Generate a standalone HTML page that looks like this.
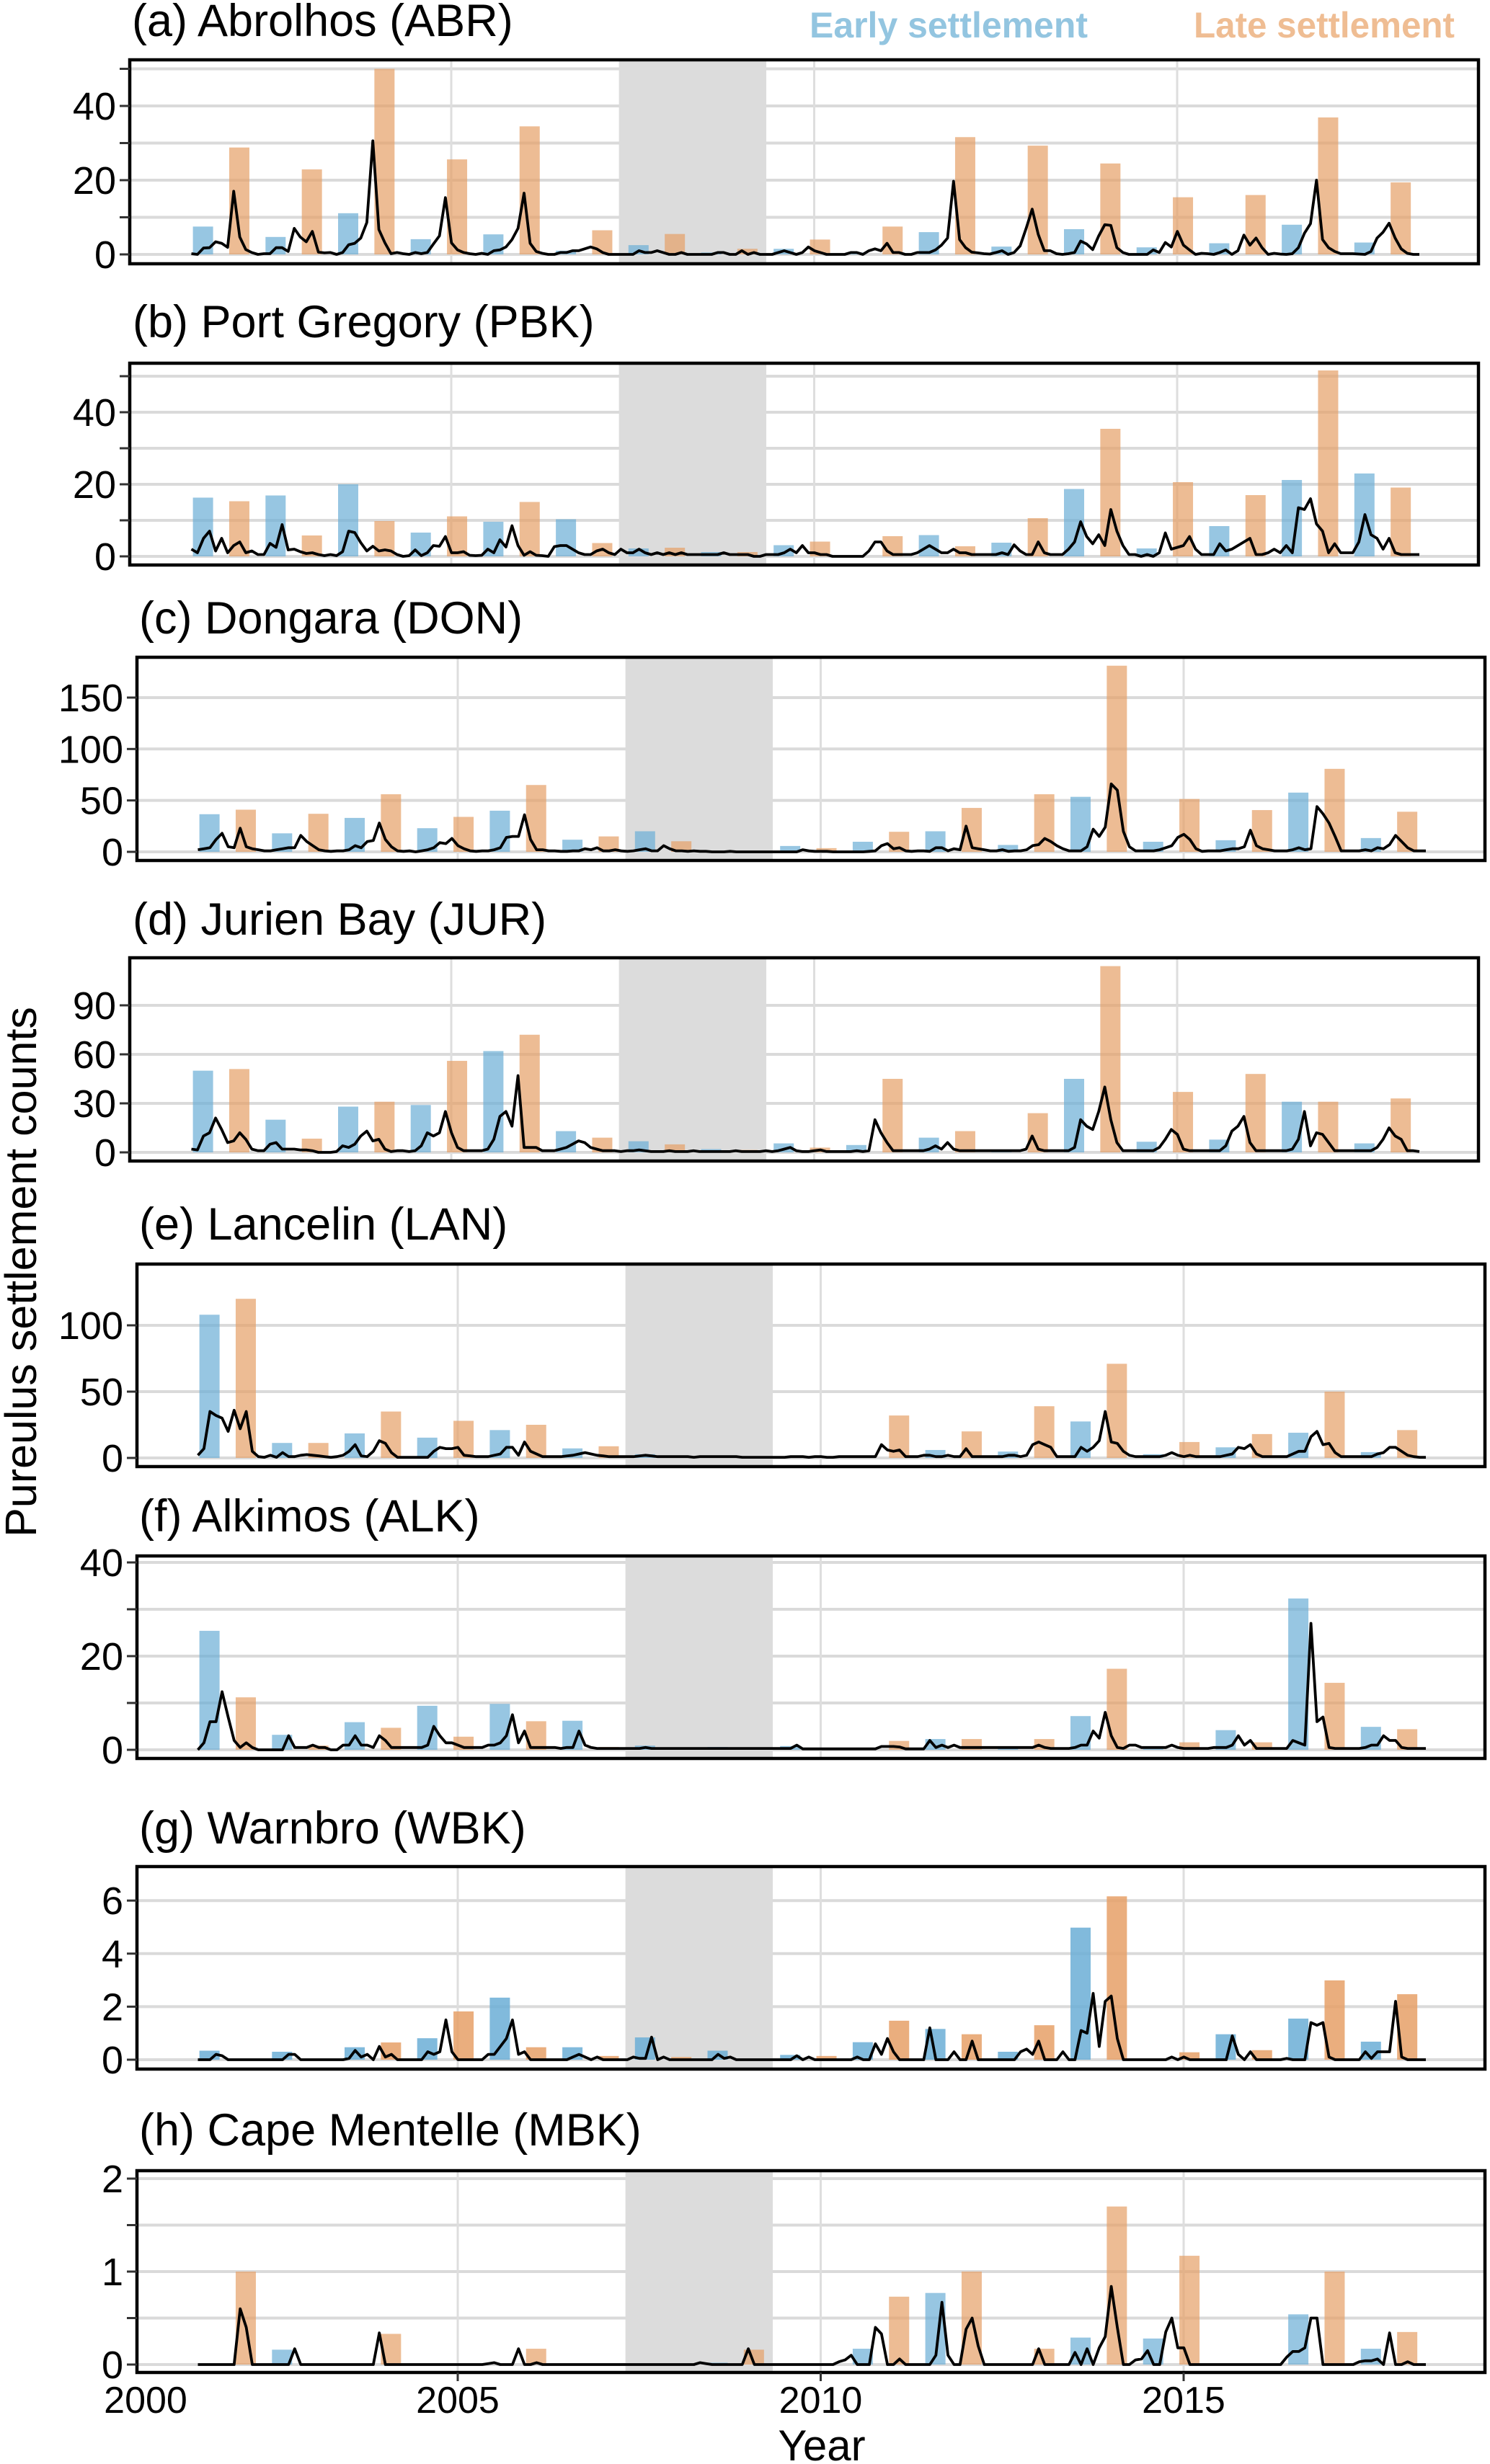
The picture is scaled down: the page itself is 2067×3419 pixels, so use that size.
<!DOCTYPE html>
<html>
<head>
<meta charset="utf-8">
<title>Pueruli settlement counts</title>
<style>
  html,body{margin:0;padding:0;background:#fff;}
  svg{display:block;font-family:"Liberation Sans",Arial,sans-serif;}
</style>
</head>
<body>
<svg id="chart" xmlns="http://www.w3.org/2000/svg" width="2067" height="3419" viewBox="0 0 2067 3419">
  <rect x="0" y="0" width="2067" height="3419" fill="#ffffff"/>
  <text x="1123" y="52" font-size="50" font-weight="bold" fill="#93c5e0" textLength="386" lengthAdjust="spacingAndGlyphs">Early settlement</text>
  <text x="1656" y="52" font-size="50" font-weight="bold" fill="#efbd93" textLength="362" lengthAdjust="spacingAndGlyphs">Late settlement</text>
  <text x="50" y="1765" font-size="61" fill="#000" text-anchor="middle" transform="rotate(-90 50 1765)">Pureulus settlement counts</text>
  <text x="1140" y="3414" font-size="60" fill="#000" text-anchor="middle">Year</text>
</svg>
<script>
// ---------- data ----------
const seasons = [2001,2002,2003,2004,2005,2006,2007,2008,2009,2010,2011,2012,2013,2014,2015,2016,2017];
const earlyOffset = 0.58;
const lateOffset = 1.08;
const monthlyStart = 2001.42;
const shadeStart = [2007.31];
const shadeEnd = [2009.34];
const xTickYears = [2000, 2005, 2010, 2015];
const xGridYears = [2005, 2010, 2015];

// (a) Abrolhos
const abrEarly = [7.5,4.7,11.1,4.1,5.4,1,2.5,0.5,1.5,0.5,6,2.1,6.8,1.9,3,8,3.2];
const abrLate  = [28.8,22.9,50,25.6,34.5,6.5,5.5,1.5,4,7.5,31.6,29.3,24.5,15.4,16,36.9,19.4];
const abrMonthly = [
 0.2,0,1.7,1.8,3.4,3,1.9,17,4.7,1.3,0.5,0,
 0.2,0.2,1.8,1.8,0.8,7,4.7,3.4,6.2,0.6,0.4,0.5,
 0,0.5,2.6,3,4.4,8.6,30.6,6.7,3.1,0.2,0.5,0.2,
 0,0.5,0.2,0.5,2.8,5,15.3,3.1,1.2,0.5,0.2,0,
 0.3,0,1,1.2,2,4,7,16.5,3,0.8,0.3,0,
 0,0.5,0.5,1,1,1.5,2,1.5,0.5,0,0,0,
 0,0,1,0.5,0.5,1,0.5,0,0,0.5,0,0,
 0,0,0,0.5,0.5,0,0,1,0,0.5,0,0,
 0,0.5,1,0.5,0,0.5,2,1,0.5,0,0,0,
 0,0.5,0.5,0,1,1.5,1,3,0.5,0.5,0,0,
 0.5,0.5,0.5,1.2,2.5,4.4,19.7,4,1.8,0.6,0.4,0.2,
 0.1,0.5,1,0,0.5,2.3,7,12.2,5.4,1,1,0.2,
 0,0.2,0.5,3.6,2.8,1.3,5,8,7.8,1.8,0.5,0,
 0,0,0,1.2,0.5,3.2,2,6.2,2.5,1.2,0,0.3,
 0.2,0,0.5,1.2,0,1,5.2,2.5,4.4,1.8,0,0.3,
 0.1,0,0.2,1.8,5.7,8.3,20,4,1.8,0.8,0.2,0.2,
 0.2,0.1,0,0.8,4.4,6,8.4,4.4,1.5,0.3,0,0];
const abrGrid = [0,10,20,30,40,50];
const abrTickLabels = [0,20,40];

// (b) Port Gregory
const pbkEarly = [16.3,16.9,20,6.6,9.6,10.3,2.2,1.2,3.1,0,5.9,3.8,18.7,2.2,8.4,21.2,23];
const pbkLate  = [15.3,5.8,9.8,11.1,15.1,3.7,2.4,1.2,4.1,5.6,2.8,10.6,35.4,20.6,17,51.6,19.1];
const pbkMonthly = [
 2,1,5,7,1.5,5,1,3,4,1,1.5,0.5,
 0.5,3.6,2.5,8.8,1.8,2,1.3,0.8,1,0.5,0.2,0.5,
 0.2,1.3,7,6.6,3.8,1.5,2.8,1.5,1.8,1.5,0.5,0,
 0.2,1.8,0.2,1,3,2.8,5.5,1,1,1.3,0.3,0.2,
 0.3,2,1,4.6,2.6,8.5,3,0.3,1.3,0.3,0.2,0,
 2.7,3,3,2,1,0.5,0.5,1.5,2,1,0.5,2,
 1,1,2,1,0.5,1,0.5,1,0.5,1,0.5,0.5,
 0.5,0.5,0.5,0.5,1,0.5,0.5,0.5,0.5,0,0,0.5,
 0.5,0.5,1,2,1,3,1,1,0.5,0.5,0,0,
 0,0,0,0,1.5,4,4,1.5,0.5,0.5,0.5,0.5,
 1,2,3,2,1,1,2,1,1,0.5,0.5,0.5,
 0.5,0.5,1,0.5,3.2,1.5,0.5,0.5,4,1,0.5,0.5,
 0.5,2,4,9.6,5.5,3.5,6,3,13,7,3,0.5,
 0.5,0,0.5,0,1,6.5,2,2.5,3,5.5,2,0.5,
 0.5,0.5,3.5,1.5,2,3,4,5,0.5,0.5,1,2,
 1,3,1,13.5,13,16,9,7,1,3.5,1,1,
 1,4,11.6,6,5,2,5,1,0.5,0.5,0.5,0.5];
const pbkGrid = [0,10,20,30,40,50];
const pbkTickLabels = [0,20,40];

// (c) Dongara
const donEarly = [36.6,18,33,23,40,11.8,20,0,5.7,9.8,20,6.7,53.5,9.8,11.3,57.6,13.4];
const donLate  = [41,37,56,34,65,15,10.3,0,3.6,19.5,42.7,56,181,51.4,40.6,80.7,39];
const donMonthly = [
 2,3,4,12,18,5,4,23,5,3,2,1,
 1,2,3,4,4,16,10,6,2,1,0.5,1,
 1,2,6,4,10,11,28,12,5,1,0.5,1,
 0,1,2,4,9,8,13,6,3,1,0.5,1,
 1,2,4,14,15,15,36,12,2,2,1,1,
 0.5,0.5,1,1,3,2,4,1,1,2,1,0.5,
 1,2,3,1,1,6,3,1,1,0.5,1,0.5,
 0.5,0,0,0,0.5,0,0,0,0,0,0,0,
 0,0,0,0,2,1,0.5,0.5,0.5,0,0,0,
 0,0,0,0.5,1,6,8,3,4,1,0.5,1,
 1,0.5,4,4,1,3,2,25,4,3,2,1,
 1,2,0.5,1,1,2,6,7,13,10,6,3,
 1,1,1,5,22,15,24,66,60,20,5,1,
 1,1,1,2,4,6,14,17,12,3,0.5,1,
 1,1,2,3,3,5,21,6,3,2,1,1,
 1,2,4,2,3,44,37,28,15,1,1,1,
 1,2,1,4,3,7,16,10,4,1,1,1];
const donGrid = [0,50,100,150];
const donTickLabels = [0,50,100,150];

// (d) Jurien Bay
const jurEarly = [50,20,28,29,62,13,6.8,2,5.5,4.5,9,1,45,6.5,7.8,31,5.5];
const jurLate  = [51,8.4,31,56,72,9,4.9,1.5,2.9,45,13,24,114,37,48,31,33];
const jurMonthly = [
 2,1.5,10,12,21,14,6,7,12,8,2,1,
 1,5,6,2,2,2,1.5,1.5,1,0,0,0,
 0.5,4,3,5,10,13,7,8,2,0.5,1,1,
 0.5,1,4,12,10,12,25,12,3,1,1,1,
 1,2,8,22,25,16,47,3,3,3,1,1,
 1,2,3,5,7,6,3,2,1,1,1,0.5,
 1,1,1.5,1,0.5,0.5,0.5,1,0.5,0.5,0.5,1,
 0.5,0.5,0.5,0.5,0.5,0.5,1,0.5,0.5,0.5,0.5,1,
 0.5,1,2,3,1,0.5,0.5,1,1.5,0.5,0.5,0.5,
 0.5,0.5,1,0.5,1,20,12,6,1,1,1,1,
 1,1,2,4,2,6,2,1,1,1,1,1,
 1,1,1,1,1,1,2,10,2,1,1,1,
 1,1,3,20,16,14,25,40,20,6,1,1,
 1,1,1,1,3,8,14,11,2,1,1,1,
 1,1,1,4,13,16,22,6,1,1,1,1,
 1,1,2,8,25,4,12,11,6,1,1,1,
 1,1,1,1,3,8,15,10,8,1,1,0.5];
const jurGrid = [0,30,60,90];
const jurTickLabels = [0,30,60,90];

// (e) Lancelin
const lanEarly = [108,11.3,18.5,15.3,21,7.2,2.8,0.5,0.5,1,6,4.8,27.5,2.8,8,19,4.4];
const lanLate  = [120,11.3,35,28,25,8.8,1.6,0.5,0,32,20,39,71,12,18,50,21];
const lanMonthly = [
 2,7,35,32,30,20,36,22,35,5,1,0.5,
 2,0.5,4,1,1,2,2.5,2,1.5,1,0.5,1,
 2,5,10,1.5,1,5,13,11,4,0.5,0.5,0.5,
 0.5,0.5,0.5,5,8,7,7,8,2,1.5,1,1,
 1,2,3,8,8,2,12,5,3,1,1,1,
 1,1.5,2,3,4,3,2,1.5,1,1,1,1,
 1,1.5,2,1.5,1,1,1,1,1,1,0.5,1,
 1,1,1,1,1,1,0.5,0.5,0.5,0.5,0.5,0.5,
 0.5,0.5,1,1,1,0.5,1,1,0.5,0.5,1,1,
 1,1,1,1,1,10,6,5,6,1,1,1,
 2,2,1,1,2,1,1,7,1,1,1,1,
 1,1,2,2,1,2,10,12,10,8,1,1,
 1,1,8,5,8,13,35,12,11,5,2,1,
 1,1,1,1,2,4,2,1,2,1,1,1,
 1,1,2,3,8,7,10,3,1,1,1,1,
 1,3,5,5,16,20,10,11,4,1,1,1,
 1,1,1,3,4,8,8,5,2,1,0.5,0.5];
const lanGrid = [0,50,100];
const lanTickLabels = [0,50,100];

// (f) Alkimos
const alkEarly = [25.4,3.2,5.9,9.4,9.8,6.2,0.9,0.6,0.8,0.2,2.3,0.6,7.2,0.2,4.2,32.3,4.9];
const alkLate  = [11.2,0.9,4.7,2.8,6.1,0.6,0,0,0,1.9,2.3,2.3,17.3,1.6,1.6,14.3,4.4];
const alkMonthly = [
 0,1.5,6,6,12.4,7,2,0.5,1.5,0.5,0,0,
 0,0,0,3,0.5,0.5,0.5,1,0.5,0.5,0,0,
 1,1,3,1,1,0.5,3,2,0.5,0.5,0.5,0.5,
 0.5,0.5,1,5,3,1.5,1.5,1,0.5,0.5,0.5,0.5,
 1,1,1.5,3,7.5,1.5,4,0.5,0.5,0.5,0.5,0.5,
 0.3,0.5,0.5,4,1,0.5,0.3,0.3,0.3,0.3,0.3,0.3,
 0.3,0.3,0.5,0.3,0.3,0.3,0.3,0.3,0.3,0.3,0.3,0.3,
 0.3,0.3,0.3,0.3,0.3,0.3,0.3,0.3,0.3,0.3,0.3,0.3,
 0.3,0.3,0.3,1,0.2,0.2,0.2,0.2,0.2,0.2,0.2,0.2,
 0.2,0.2,0.2,0.2,0.2,0.7,0.7,0.7,0.6,0.2,0.2,0.2,
 0.2,2,0.5,1,0.5,1,0.5,0.5,0.5,0.5,0.5,0.5,
 0.5,0.5,0.5,0.5,0.5,0.5,0.5,1,0.5,0.3,0.3,0.3,
 0.3,0.5,1,1,4,2.5,8,3,0.5,0.3,1,1,
 0.5,0.5,0.5,0.5,0.5,1,0.5,0.3,0.3,0.3,0.3,0.3,
 0.5,0.5,0.5,1,3,1,2,0.3,0.3,0.3,0.3,0.3,
 0.3,2,1.5,1,27,6,7,0.5,0.3,0.3,0.3,0.3,
 0.3,0.5,1,1,3,2,2,0.5,0.3,0.3,0.3,0.3];
const alkGrid = [0,10,20,30,40];
const alkTickLabels = [0,20,40];

// (g) Warnbro
const wbkEarly = [0.34,0.3,0.47,0.81,2.34,0.47,0.84,0.34,0.18,0.66,1.16,0.3,4.98,0,0.96,1.55,0.68];
const wbkLate  = [0,0,0.65,1.82,0.47,0.14,0.1,0,0.14,1.47,0.96,1.3,6.16,0.28,0.36,2.99,2.47];
const wbkMonthly = [
 0,0,0,0.2,0.15,0,0,0,0,0,0,0,
 0,0,0,0.2,0.2,0,0,0,0,0,0,0,
 0,0.05,0.35,0.1,0.2,0,0.5,0.1,0.2,0,0,0,
 0,0,0.3,0.2,0.3,1.5,0.3,0,0,0,0,0,
 0.2,0.2,0.5,0.8,1.5,0.2,0.3,0,0,0,0,0,
 0,0,0.1,0.2,0.1,0,0.1,0,0,0,0,0,
 0.1,0.05,0.05,0.85,0,0.1,0,0,0,0,0,0,
 0,0,0.2,0.05,0.1,0,0,0,0,0,0,0,
 0,0,0,0.15,0,0.1,0,0,0,0,0,0,
 0,0.1,0,0,0.6,0.2,0.8,0.3,0,0,0,0,
 0,1.2,0,0,0,0.3,0,0,0.7,0,0,0,
 0,0,0,0,0.3,0.4,0.2,0.7,0,0,0,0.3,
 0,0,1.1,1.0,2.5,0.5,2.2,2.4,0.8,0,0,0,
 0,0,0,0,0,0.1,0,0.1,0,0,0,0,
 0,0,0,0.9,0.2,0,0.3,0,0,0,0,0,
 0.05,0,0,0,1.4,1.3,1.4,0.1,0,0,0,0,
 0,0.3,0.05,0.3,0.3,0.3,2.2,0.1,0,0,0,0];
const wbkGrid = [0,2,4,6];
const wbkTickLabels = [0,2,4,6];

// (h) Cape Mentelle
const mbkEarly = [0,0.16,0,0,0,0,0,0.02,0,0.17,0.77,0,0.29,0.28,0,0.54,0.17];
const mbkLate  = [1.0,0,0.33,0,0.17,0,0,0.16,0,0.73,1.0,0.17,1.7,1.17,0,1.0,0.35];
const mbkMonthly = [
 0,0,0,0,0,0,0,0.6,0.4,0,0,0,
 0,0,0,0,0.17,0,0,0,0,0,0,0,
 0,0,0,0,0,0,0.34,0,0,0,0,0,
 0,0,0,0,0,0,0,0,0,0,0,0,
 0.01,0.02,0,0,0,0.17,0,0,0.02,0,0,0,
 0,0,0,0,0,0,0,0,0,0,0,0,
 0,0,0,0,0,0,0,0,0,0,0,0.02,
 0.01,0,0,0,0,0,0,0.17,0,0,0,0,
 0,0,0,0,0,0,0,0,0,0,0.03,0.05,
 0.1,0,0,0,0.4,0.33,0,0,0.06,0,0,0,
 0,0,0.1,0.67,0.1,0,0,0.38,0.5,0.2,0,0,
 0,0,0,0,0,0,0,0.17,0,0,0,0,
 0,0.13,0,0.17,0,0.18,0.3,0.84,0.4,0,0,0.05,
 0.06,0.15,0,0,0.35,0.5,0.18,0.18,0,0,0,0,
 0,0,0,0,0,0,0,0,0,0,0,0,
 0.08,0.14,0.14,0.18,0.5,0.5,0,0,0,0,0,0,
 0.03,0.04,0.04,0.06,0,0.34,0,0,0.03,0,0,0];
const mbkGrid = [0,0.5,1,1.5,2];
const mbkTickLabels = [0,1,2];

// ---------- layout (not data) ----------
const groupA = {L:180, R:2051, x2005:626, labelRight:161};
const groupB = {L:190, R:2060, x2005:635, labelRight:171};
const pxPerYear = 100.7;
const barHalf = 14;

const panels = [
  {key:'abrolhos', title:'(a) Abrolhos (ABR)', g:groupA, top:83, bottom:366, zero:353, ppu:5.15, titleX:183, titleY:50, early:abrEarly, late:abrLate, monthly:abrMonthly, grid:abrGrid, labels:abrTickLabels, alpha:0.7},
  {key:'port-gregory', title:'(b) Port Gregory (PBK)', g:groupA, top:504, bottom:784, zero:772, ppu:5.0, titleX:184, titleY:468, early:pbkEarly, late:pbkLate, monthly:pbkMonthly, grid:pbkGrid, labels:pbkTickLabels, alpha:0.7},
  {key:'dongara', title:'(c) Dongara (DON)', g:groupB, top:912, bottom:1194, zero:1182, ppu:1.427, titleX:193, titleY:879, early:donEarly, late:donLate, monthly:donMonthly, grid:donGrid, labels:donTickLabels, alpha:0.7},
  {key:'jurien-bay', title:'(d) Jurien Bay (JUR)', g:groupA, top:1329, bottom:1611, zero:1599, ppu:2.267, titleX:184, titleY:1297, early:jurEarly, late:jurLate, monthly:jurMonthly, grid:jurGrid, labels:jurTickLabels, alpha:0.7},
  {key:'lancelin', title:'(e) Lancelin (LAN)', g:groupB, top:1754, bottom:2035, zero:2023, ppu:1.84, titleX:193, titleY:1720, early:lanEarly, late:lanLate, monthly:lanMonthly, grid:lanGrid, labels:lanTickLabels, alpha:0.7},
  {key:'alkimos', title:'(f) Alkimos (ALK)', g:groupB, top:2159, bottom:2440, zero:2428, ppu:6.5, titleX:193, titleY:2125, early:alkEarly, late:alkLate, monthly:alkMonthly, grid:alkGrid, labels:alkTickLabels, alpha:0.7},
  {key:'warnbro', title:'(g) Warnbro (WBK)', g:groupB, top:2590, bottom:2871, zero:2858, ppu:36.8, titleX:193, titleY:2558, early:wbkEarly, late:wbkLate, monthly:wbkMonthly, grid:wbkGrid, labels:wbkTickLabels, alpha:0.85},
  {key:'cape-mentelle', title:'(h) Cape Mentelle (MBK)', g:groupB, top:3012, bottom:3292, zero:3281, ppu:129, titleX:193, titleY:2977, early:mbkEarly, late:mbkLate, monthly:mbkMonthly, grid:mbkGrid, labels:mbkTickLabels, alpha:0.7}
];

const NS = 'http://www.w3.org/2000/svg';
const svg = document.getElementById('chart');
function make(tag, attrs, parent){
  const el = document.createElementNS(NS, tag);
  for (const k in attrs) el.setAttribute(k, attrs[k]);
  (parent || svg).appendChild(el);
  return el;
}

panels.forEach(function(p, pi){
  const xs = function(yr){ return p.g.x2005 + (yr - 2005) * pxPerYear; };
  const ys = function(v){ return p.zero - v * p.ppu; };
  const L = p.g.L, R = p.g.R;

  const grp = make('g', {});
  
  

  const title = make('text', {x:p.titleX, y:p.titleY, 'font-size':63, fill:'#000'}, grp);
  title.textContent = p.title;
  
  

  p.grid.forEach(function(v){
    const gl = make('line', {x1:L, x2:R, y1:ys(v), y2:ys(v), stroke:'#dadada', 'stroke-width':4}, grp);
    
    
  });
  xGridYears.forEach(function(yr){
    const vl = make('line', {x1:xs(yr), x2:xs(yr), y1:p.top, y2:p.bottom, stroke:'#dedede', 'stroke-width':3}, grp);
    
    
  });
  shadeStart.forEach(function(s, i){
    const sh = make('rect', {x:xs(s), y:p.top, width:xs(shadeEnd[i]) - xs(s), height:p.bottom - p.top, fill:'#dcdcdc'}, grp);
    
    
  });
  seasons.forEach(function(s, i){
    const ve = p.early[i];
    const be = make('rect', {x:xs(s + earlyOffset) - barHalf, y:ys(ve), width:barHalf*2, height:Math.max(0, p.zero - ys(ve)), fill:'rgba(107,174,214,' + p.alpha + ')'}, grp);
    
    
    const vl = p.late[i];
    const bl = make('rect', {x:xs(s + lateOffset) - barHalf, y:ys(vl), width:barHalf*2, height:Math.max(0, p.zero - ys(vl)), fill:'rgba(230,160,103,' + p.alpha + ')'}, grp);
    
    
  });
  let d = '';
  p.monthly.forEach(function(v, m){
    const x = xs(monthlyStart + m / 12), y = ys(v);
    d += (m === 0 ? 'M' : 'L') + x.toFixed(1) + ',' + y.toFixed(1);
  });
  const line = make('path', {d:d, fill:'none', stroke:'#000', 'stroke-width':3.8, 'stroke-linejoin':'round'}, grp);
  
  

  const box = make('rect', {x:L, y:p.top, width:R - L, height:p.bottom - p.top, fill:'none', stroke:'#000', 'stroke-width':4.5}, grp);
  
  

  p.grid.forEach(function(v){
    const tk = make('line', {x1:L - 14, x2:L, y1:ys(v), y2:ys(v), stroke:'#333', 'stroke-width':3}, grp);
    
    
  });
  p.labels.forEach(function(v){
    const lb = make('text', {x:p.g.labelRight, y:ys(v) + 19, 'font-size':54, 'text-anchor':'end', fill:'#000'}, grp);
    lb.textContent = String(v);
    
    
  });

  if (pi === panels.length - 1) {
    xTickYears.forEach(function(yr){
      const x = Math.max(xs(yr), 202);
      if (yr !== 2000) {
        const xt = make('line', {x1:xs(yr), x2:xs(yr), y1:p.bottom, y2:p.bottom + 12, stroke:'#333', 'stroke-width':3}, grp);
        
        
      }
      const xl = make('text', {x:x, y:3348, 'font-size':52, 'text-anchor':'middle', fill:'#000'}, grp);
      xl.textContent = String(yr);
      
      
    });
  }
});
</script>
</body>
</html>
